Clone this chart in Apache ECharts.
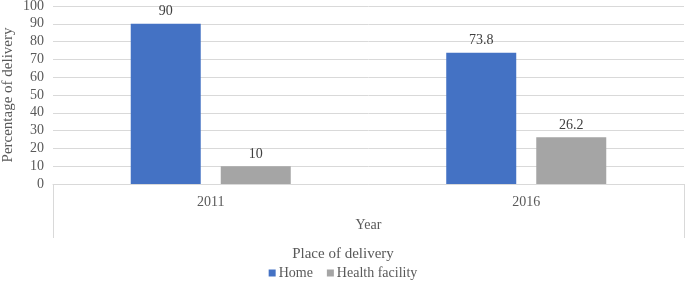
<!DOCTYPE html>
<html>
<head>
<meta charset="utf-8">
<script src="https://cdn.jsdelivr.net/npm/echarts@6/dist/echarts.min.js"></script>
<style>
  html, body { margin: 0; padding: 0; background: #fff; }
  #chart { width: 686px; height: 282px; }
</style>
</head>
<body>
<div id="chart"></div>
<script>
var years = ['2011', '2016'];
var homeData = [90, 73.8];
var facilityData = [10, 26.2];

(function () {
  var myChart = echarts.init(document.getElementById('chart'));
  var font = 'Liberation Serif';
  var option = {
    textStyle: { fontFamily: font },
    title: {
      text: 'Place of delivery',
      left: 'center',
      top: 242,
      textStyle: { fontFamily: font, fontSize: 15, fontWeight: 'normal', color: '#595959' }
    },
    legend: {
      data: ['Home', 'Health facility'],
      left: 'center',
      top: 261,
      icon: 'rect',
      itemWidth: 7,
      itemHeight: 7,
      itemGap: 14,
      textStyle: { fontFamily: font, fontSize: 14, color: '#595959', padding: [0, 0, 0, -2] }
    },
    grid: {
      left: 53,
      right: 2,
      top: 6,
      bottom: 98,
      containLabel: false,
      outerBoundsMode: 'none'
    },
    xAxis: {
      type: 'category',
      data: years,
      name: 'Year',
      nameLocation: 'middle',
      nameGap: 34,
      nameMoveOverlap: false,
      nameTextStyle: { fontFamily: font, fontSize: 14, color: '#595959' },
      axisLine: { lineStyle: { color: '#d9d9d9' } },
      axisTick: { show: true, interval: 1, length: 54, lineStyle: { color: '#d9d9d9' } },
      axisLabel: { fontFamily: font, fontSize: 14, color: '#595959', margin: 11 }
    },
    yAxis: {
      type: 'value',
      min: 0,
      max: 100,
      interval: 10,
      name: 'Percentage of delivery',
      nameLocation: 'middle',
      nameGap: 37,
      nameMoveOverlap: false,
      nameTextStyle: { fontFamily: font, fontSize: 15, color: '#595959' },
      axisLabel: { fontFamily: font, fontSize: 14, color: '#595959', margin: 9 },
      splitLine: { lineStyle: { color: '#d9d9d9' } }
    },
    series: [
      {
        name: 'Home',
        type: 'bar',
        data: homeData,
        barWidth: 70,
        barGap: '28.6%',
        itemStyle: { color: '#4472c4' },
        label: { show: true, position: 'top', distance: 5, fontFamily: font, fontSize: 14, color: '#404040' }
      },
      {
        name: 'Health facility',
        type: 'bar',
        data: facilityData,
        barWidth: 70,
        itemStyle: { color: '#a5a5a5' },
        label: { show: true, position: 'top', distance: 5, fontFamily: font, fontSize: 14, color: '#404040' }
      }
    ]
  };
  myChart.setOption(option);
  window.addEventListener('resize', function () {
    myChart.resize();
  });
})();
</script>
</body>
</html>
